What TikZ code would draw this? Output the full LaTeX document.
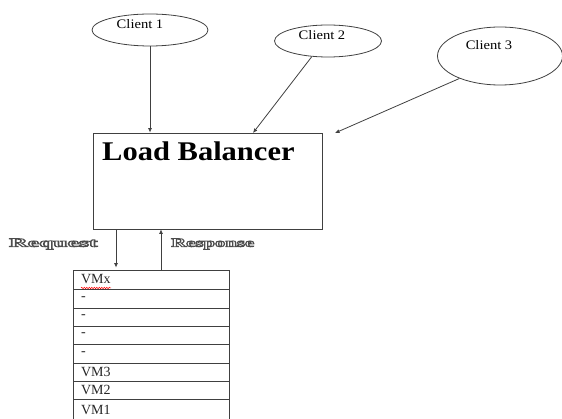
\documentclass[tikz,border=0pt]{standalone}
\usepackage{fontspec}
\usepackage{graphicx}
\setmainfont{Liberation Serif}
\usetikzlibrary{arrows.meta,shapes.geometric,calc,decorations.pathmorphing}
\newcommand{\hollow}[1]{\special{pdf:literal direct 1 Tr 0.8 w 0.3 0.3 0.3 RG}#1\special{pdf:literal direct 0 Tr}}
\begin{document}
\begin{tikzpicture}[x=1pt,y=-1pt,
  ln/.style={draw=black!75,line width=0.8pt},
  arr/.style={ln,-{Latex[length=4.5pt,width=4pt]}},
  client/.style={ellipse,ln,inner sep=0pt},
  ctext/.style={inner sep=0pt,font=\fontsize{13}{15}\selectfont},
  vmrow/.style={ln,rectangle,minimum width=156pt,text width=140pt,inner xsep=8pt,inner ysep=0pt,align=left,font=\fontsize{14}{16}\selectfont,text=black!85},
  lbl/.style={inner sep=0pt,font=\bfseries\fontsize{12.5}{14}\selectfont}]
\useasboundingbox (0,0) rectangle (562,419);
% clients
\node[client,minimum width=116pt,minimum height=32pt] (c1) at (150,30) {};
\node[ctext] (t1) at (140,24) {\scalebox{1.12}[1]{Client 1}};
\node[client,minimum width=107pt,minimum height=32pt] (c2) at (328,41) {};
\node[ctext] (t2) at (322,35) {\scalebox{1.12}[1]{Client 2}};
\node[client,minimum width=125pt,minimum height=58pt] (c3) at (500,56) {};
\node[ctext] (t3) at (489,45) {\scalebox{1.12}[1]{Client 3}};
% load balancer
\node[ln,rectangle,minimum width=229pt,minimum height=96pt,inner sep=0pt] (lb) at (207.5,181) {};
\node[anchor=base west,inner sep=0pt,font=\bfseries\fontsize{27}{30}\selectfont] (lbt) at (102,161) {\scalebox{1.13}[1]{Load Balancer}};
\coordinate (e2) at (253,133);
\coordinate (e3) at (335,133);
\draw[arr] (c1.south) -- (c1.south |- lb.north);
\draw[arr] (c2.224) -- (e2);
\draw[arr] (c3.209) -- (e3);
% VM table
\node[vmrow,minimum height=19pt] (r1) at (151,279.5) {VMx};
\node[vmrow,minimum height=19pt] (r2) at (151,298.5) {-};
\node[vmrow,minimum height=18pt] (r3) at (151,317) {-};
\node[vmrow,minimum height=18pt] (r4) at (151,335) {-};
\node[vmrow,minimum height=19pt] (r5) at (151,353.5) {-};
\node[vmrow,minimum height=18pt] (r6) at (151,372) {VM3};
\node[vmrow,minimum height=18pt] (r7) at (151,390) {VM2};
\node[vmrow,minimum height=22pt] (r8) at (151,410) {VM1};
\draw[red,line width=0.5pt,decorate,decoration={snake,amplitude=0.7pt,segment length=2.5pt}] (81,288) -- (111,288);
% request / response
\coordinate (rq) at (116,0);
\coordinate (rs) at (161,0);
\draw[arr] (lb.south -| rq) -- ($(r1.north -| rq)+(0,-2)$);
\draw[arr] (r1.north -| rs) -- (lb.south -| rs);
\node[lbl,anchor=west] (req) at (9,244) {\scalebox{2.05}[1]{\hollow{Request}}};
\node[lbl,anchor=west] (res) at (171,244) {\scalebox{1.66}[1]{\hollow{Response}}};
\end{tikzpicture}
\end{document}
